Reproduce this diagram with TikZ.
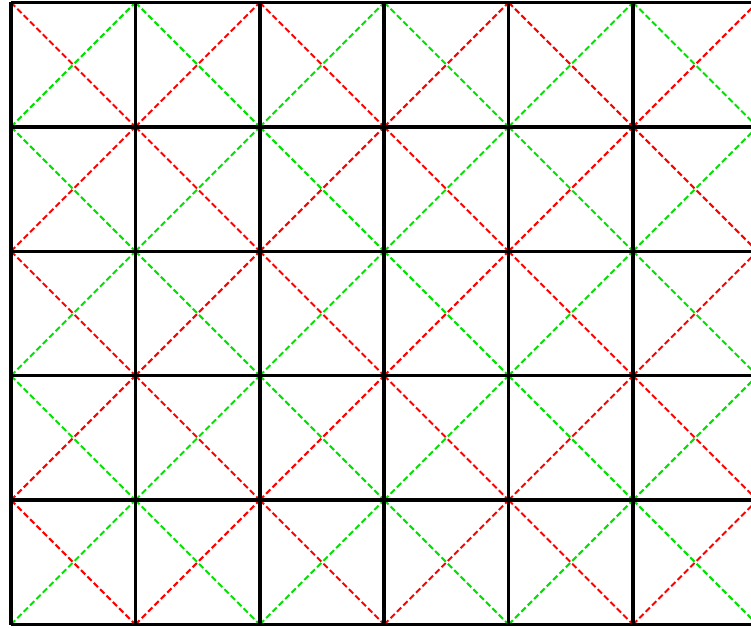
\documentclass[tikz,border=0pt]{standalone}
\definecolor{dgreen}{RGB}{0,225,0}
\definecolor{dred}{RGB}{255,0,0}
\tikzset{
  gridline/.style={line width=3.5pt, black},
  diagred/.style={line width=2pt, dred, dash pattern=on 6pt off 3pt},
  diaggreen/.style={line width=2pt, dgreen, dash pattern=on 6pt off 3pt}
}
\begin{document}
\begin{tikzpicture}[x=1pt,y=-1pt]
\useasboundingbox (0,0) rectangle (751,628);
\clip (0,0) rectangle (751,628);
\def\s{124.4}
% named vertices
\foreach \i in {0,...,6}{
  \foreach \j in {0,...,5}{
    \coordinate (v-\i-\j) at ({11+\i*\s},{2.5+\j*\s});
  }
}
% diagonals
\foreach \i in {0,...,5}{
  \foreach \j in {0,...,4}{
    \pgfmathtruncatemacro{\ip}{\i+1}
    \pgfmathtruncatemacro{\jp}{\j+1}
    \pgfmathtruncatemacro{\cellparity}{mod(\i+\j,2)}
    \ifnum\cellparity=0
      \draw[diagred] (v-\i-\j) -- (v-\ip-\jp);
      \draw[diaggreen] (v-\i-\jp) -- (v-\ip-\j);
    \else
      \draw[diagred] (v-\i-\jp) -- (v-\ip-\j);
      \draw[diaggreen] (v-\i-\j) -- (v-\ip-\jp);
    \fi
  }
}
% grid
\foreach \j in {0,...,5}{
  \draw[gridline] (v-0-\j) -- (v-6-\j);
}
\foreach \i in {0,...,6}{
  \draw[gridline] (v-\i-0) -- (v-\i-5);
}
\end{tikzpicture}
\end{document}
